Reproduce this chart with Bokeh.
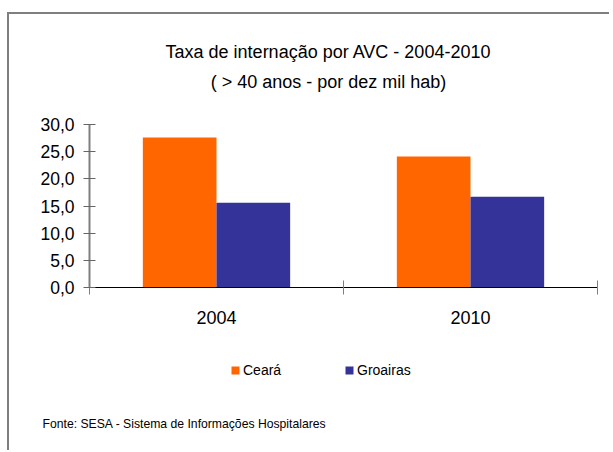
from bokeh.plotting import figure
from bokeh.layouts import column
from bokeh.models import (Range1d, FixedTicker, Label, Legend, LegendItem, Title)
from bokeh.embed import file_html
from bokeh.resources import INLINE

# ---- data ----
years = ["2004", "2010"]
ceara = [27.6, 24.1]
groairas = [15.6, 16.7]
series_names = ["Ceará", "Groairas"]
y_ticks = [0, 5, 10, 15, 20, 25, 30]
y_tick_labels = ["0,0", "5,0", "10,0", "15,0", "20,0", "25,0", "30,0"]
title_line1 = "Taxa de internação por AVC - 2004-2010"
title_line2 = "( > 40 anos - por dez mil hab)"
footer = "Fonte: SESA - Sistema de Informações Hospitalares"

FONT = "Liberation Sans"
ORANGE = "#FF6600"
NAVY = "#333399"
W = 600
centers = [i + 0.5 for i in range(len(years))]
bw = 0.29


def blank(height, **kw):
    f = figure(width=W, height=height, output_backend="svg", toolbar_location=None,
               x_range=Range1d(0, len(years)), y_range=Range1d(0, 30),
               x_axis_type=None, y_axis_type=None, title=None,
               min_border_left=0, min_border_right=0,
               min_border_top=0, **kw)
    f.outline_line_color = None
    f.xgrid.visible = False
    f.ygrid.visible = False
    return f


# ---- title block ----
top = blank(98, min_border_bottom=0)
for txt, yy in [(title_line1, 61), (title_line2, 31)]:
    top.add_layout(Label(x=239, y=yy, x_units="screen", y_units="screen", text=txt,
                         text_align="center", text_baseline="alphabetic",
                         text_font=FONT, text_font_size="18px", text_color="black"))

# ---- chart ----
p = figure(width=W, height=228, output_backend="svg", toolbar_location=None,
           x_range=Range1d(0, len(years)), y_range=Range1d(0, 30),
           min_border_left=80, min_border_right=12, min_border_top=12,
           min_border_bottom=53, title=None)
p.outline_line_color = None
p.xgrid.visible = False
p.ygrid.visible = False

p.vbar(x=[c - bw / 2 for c in centers], top=ceara, width=bw,
       fill_color=ORANGE, line_color=None)
p.vbar(x=[c + bw / 2 for c in centers], top=groairas, width=bw,
       fill_color=NAVY, line_color=None)

xa = p.xaxis[0]
xa.ticker = FixedTicker(ticks=centers, minor_ticks=list(range(len(years) + 1)))
xa.major_label_overrides = {c: y for c, y in zip(centers, years)}
xa.major_tick_line_color = None
xa.minor_tick_in = 7
xa.minor_tick_out = 7
xa.minor_tick_line_color = "#7f7f7f"
xa.axis_line_color = "black"
xa.axis_line_width = 1
xa.major_label_text_font = FONT
xa.major_label_text_font_size = "18px"
xa.major_label_text_color = "black"
xa.major_label_standoff = 16

ya = p.yaxis[0]
ya.ticker = FixedTicker(ticks=y_ticks)
ya.major_label_overrides = {t: l for t, l in zip(y_ticks, y_tick_labels)}
ya.major_tick_in = 6
ya.major_tick_out = 6
ya.major_tick_line_color = "#666666"
ya.minor_tick_line_color = None
ya.axis_line_color = "#7f7f7f"
ya.axis_line_width = 2
ya.major_label_text_font = FONT
ya.major_label_text_font_size = "17.5px"
ya.major_label_text_color = "black"
ya.major_label_standoff = 9

# ---- legend + source ----
bot = blank(110, min_border_bottom=40)
# hidden copies of the series, used only as legend keys
k1 = bot.vbar(x=[c - bw / 2 for c in centers], top=ceara, width=bw,
              fill_color=ORANGE, line_color=None, visible=False)
k2 = bot.vbar(x=[c + bw / 2 for c in centers], top=groairas, width=bw,
              fill_color=NAVY, line_color=None, visible=False)
legend = Legend(items=[LegendItem(label=series_names[0], renderers=[k1]),
                       LegendItem(label=series_names[1], renderers=[k2])],
                orientation="horizontal", location=(141, 32),
                glyph_width=10, glyph_height=10, label_standoff=3,
                label_width=100, spacing=1, padding=0, margin=0,
                border_line_color=None, background_fill_alpha=0,
                inactive_fill_alpha=0,
                label_text_font=FONT, label_text_font_size="14px",
                label_text_color="black", label_height=10)
bot.add_layout(legend, "center")
bot.add_layout(Title(text=footer, align="left", offset=-47, standoff=8,
                     text_font=FONT, text_font_size="12.2px",
                     text_font_style="normal", text_color="black"), "below")

layout = column(top, p, bot, spacing=0)
layout.margin = (12, 0, 0, 7)
layout.styles = {"border-top": "2px solid #7f7f7f", "border-left": "2px solid #7f7f7f"}

open("out.html", "w").write(file_html(layout, INLINE))
